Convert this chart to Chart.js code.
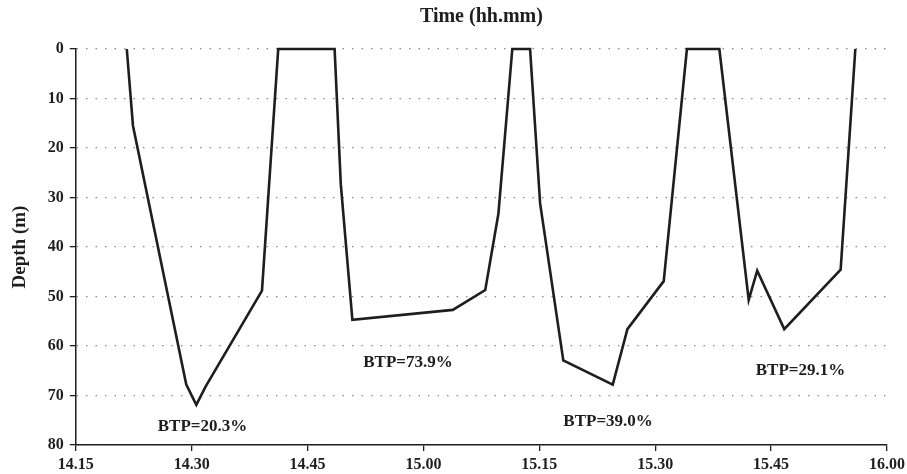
<!DOCTYPE html>
<html>
<head>
<meta charset="utf-8">
<script src="https://cdn.jsdelivr.net/npm/chart.js"></script>
<style>
  body { margin: 0; background: #fff; }
  #depth-chart { display: block; }
</style>
</head>
<body>
<canvas id="depth-chart" width="907" height="474"></canvas>
<script>
  // time as minutes after 14:00, depth in metres
  const timeMinutes = [21.6, 22.4, 29.3, 30.6, 31.8, 39.1, 41.2, 48.5, 49.3, 50.8,
    63.8, 68.0, 69.7, 71.5, 73.8, 75.1, 78.1, 84.5, 86.4, 91.1,
    94.1, 98.3, 102.1, 103.2, 106.7, 114.0, 115.9];
  const depthMetres = [0, 15.5, 67.8, 71.9, 68.2, 48.8, 0, 0, 27.3, 54.7,
    52.7, 48.7, 33.3, 0, 0, 31.2, 62.9, 67.8, 56.6, 46.9,
    0, 0, 50.7, 44.8, 56.6, 44.6, 0];

  const xTickLabels = ["14.15", "14.30", "14.45", "15.00", "15.15", "15.30", "15.45", "16.00"];

  const btpLabels = ["BTP=20.3%", "BTP=73.9%", "BTP=39.0%", "BTP=29.1%"];
  const btpTime = [31.4, 58.0, 83.9, 108.8];
  const btpDepth = [76.2, 63.3, 75.2, 65.0];

  const serif = "'Liberation Serif', 'Times New Roman', serif";
  const ink = "#1e1e1e";

  // title over the plot + the BTP notes at data positions
  const btpText = {
    id: "btpText",
    afterDatasetsDraw(chart) {
      const { ctx, chartArea, scales: { x, y } } = chart;
      ctx.save();
      ctx.fillStyle = ink;
      ctx.textAlign = "center";
      ctx.textBaseline = "middle";
      ctx.font = "bold 20px " + serif;
      ctx.fillText("Time (hh.mm)", (chartArea.left + chartArea.right) / 2, 17);
      ctx.font = "bold 17px " + serif;
      btpLabels.forEach((t, i) => {
        ctx.fillText(t, x.getPixelForValue(btpTime[i]), y.getPixelForValue(btpDepth[i]));
      });
      ctx.restore();
    },
  };

  const ctx = document.getElementById("depth-chart").getContext("2d");
  const depthChart = new Chart(ctx, {
    type: "scatter",
    data: {
      datasets: [
        {
          label: "Depth",
          data: timeMinutes.map((t, i) => ({ x: t, y: depthMetres[i] })),
          showLine: true,
          borderColor: ink,
          borderWidth: 2.6,
          pointRadius: 0,
          tension: 0,
          fill: false,
          clip: false,
        },
      ],
    },
    options: {
      responsive: false,
      animation: false,
      layout: { padding: { left: 9, right: 0, top: 49, bottom: 0 } },
      plugins: {
        legend: { display: false },
        tooltip: { enabled: false },
        title: { display: false },
      },
      scales: {
        x: {
          type: "linear",
          min: 15,
          max: 120,
          afterFit: (scale) => {
            scale.height = 29;
            scale.paddingRight = 20;
          },
          ticks: {
            stepSize: 15,
            color: ink,
            font: { family: serif, size: 16, weight: "bold" },
            padding: 4,
            maxRotation: 0,
            callback: (v, i) => xTickLabels[i],
          },
          grid: { drawOnChartArea: false, color: ink, tickLength: 6, lineWidth: 1.3 },
          border: { display: true, color: ink, width: 1.5 },
        },
        y: {
          reverse: true,
          min: 0,
          max: 80,
          ticks: {
            stepSize: 10,
            color: ink,
            font: { family: serif, size: 16, weight: "bold" },
            padding: 6,
          },
          grid: { color: "#8a8a8a", lineWidth: 1.3, tickColor: ink, tickLength: 6 },
          border: { display: true, color: ink, width: 1.5, dash: [1.5, 8] },
          title: {
            display: true,
            text: "Depth (m)",
            color: ink,
            font: { family: serif, size: 19, weight: "bold" },
            padding: { top: 0, bottom: 10 },
          },
        },
      },
    },
    plugins: [btpText],
  });
</script>
</body>
</html>
